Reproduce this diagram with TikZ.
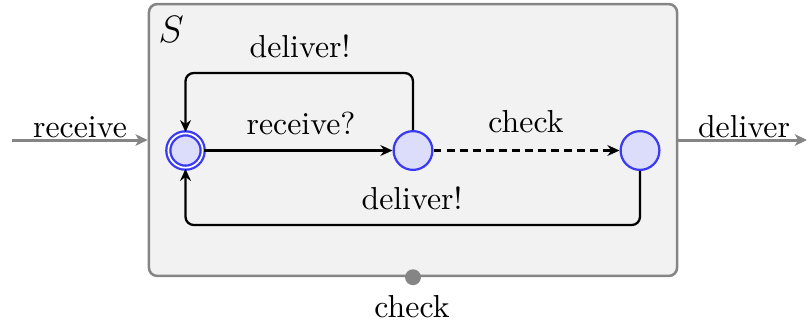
\documentclass[tikz,border=0pt]{standalone}
\usepackage{amsmath}
\usetikzlibrary{arrows.meta}
\definecolor{stateblue}{HTML}{3A3AF2}
\definecolor{statefill}{HTML}{DCDCFB}
\definecolor{boxgray}{HTML}{858585}
\definecolor{boxfill}{HTML}{F2F2F2}
\begin{document}
\begin{tikzpicture}[x=0.3145pt,y=-0.3145pt,
  boxstyle/.style={draw=boxgray,fill=boxfill,line width=0.8pt,rounded corners=2.6pt,
    minimum width=166.1pt,minimum height=85.5pt,inner sep=0pt},
  state/.style={circle,draw=stateblue,fill=statefill,line width=0.7pt,
    minimum size=12.2pt,inner sep=0pt},
  initstate/.style={state,line width=0.72pt,double=white,double distance=0.55pt,minimum size=10.8pt},
  edge/.style={draw=black,line width=0.72pt,-{Stealth[length=3.8pt,width=3.4pt]}},
  dashededge/.style={edge,dashed,dash pattern=on 2.5pt off 1.6pt},
  outedge/.style={draw=boxgray,line width=0.95pt,-{Stealth[length=3.8pt,width=3.6pt,inset=1pt]}},
  lbl/.style={anchor=base,inner sep=0pt,font=\normalsize},
  dot/.style={circle,fill=boxgray,minimum size=5pt,inner sep=0pt}
]
\useasboundingbox (0,0) rectangle (807,324);
\node[boxstyle] (box) at (413,140) {};
\node[anchor=base west,inner sep=0pt,font=\fontsize{13}{15}\selectfont] (S) at (158,42) {$S$};
\node[initstate] (s0) at (185.5,150.5) {};
\node[state] (s1) at (413,150.5) {};
\node[state] (s2) at (640,150.5) {};
\draw[edge] (s0) -- (s1);
\draw[dashededge] (s1) -- (s2);
\draw[edge,rounded corners=2.6pt] (s1.north) -- ++(0,-57) -| (s0.north);
\draw[edge,rounded corners=2.6pt] (s2.south) -- ++(0,54) -| (s0.south);
\node[lbl] (lrecv) at (301,134) {receive?};
\node[lbl] (ldel1) at (300,57) {deliver!};
\node[lbl] (lchk) at (526,132) {check};
\node[lbl] (ldel2) at (412,209) {deliver!};
\coordinate (inL) at (12,140);
\coordinate (outR) at (807,140);
\draw[outedge] (inL) -- (box.west);
\draw[outedge] (box.east) -- (outR);
\node[lbl] (lin) at (80,137) {receive};
\node[lbl] (lout) at (744,137) {deliver};
\node[dot] (d) at (box.south) {};
\node[lbl] (lchk2) at (412,317) {check};
\end{tikzpicture}
\end{document}
